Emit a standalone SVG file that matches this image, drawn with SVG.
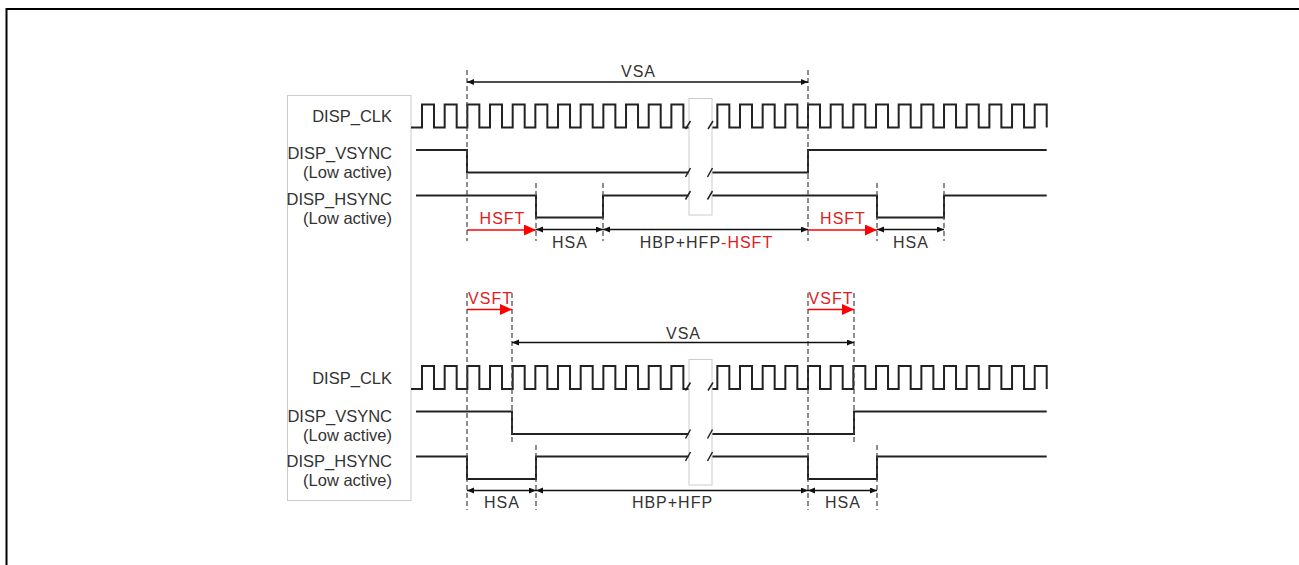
<svg xmlns="http://www.w3.org/2000/svg" width="1299" height="565" viewBox="0 0 1299 565">
<defs>
<style>
.t{font-family:"Liberation Sans",Arial,sans-serif;font-size:16px;fill:#333}
.lab{text-anchor:end;font-size:16.5px}
.al{text-anchor:middle;letter-spacing:1px}
.red{fill:#e02020}
.sig{fill:none;stroke:#222;stroke-width:2}
.dash{fill:none;stroke:#444;stroke-width:1.2;stroke-dasharray:5 3}
.arr{stroke:#111;stroke-width:1.3;marker-start:url(#ah);marker-end:url(#ah)}
.rarr{stroke:#ff0000;stroke-width:1.6;marker-end:url(#rh)}
.brk{fill:#fff;stroke:#ccc;stroke-width:1}
.sl{fill:none;stroke:#222;stroke-width:1.5}
</style>
<marker id="ah" markerUnits="userSpaceOnUse" markerWidth="8" markerHeight="7" refX="7" refY="3" orient="auto-start-reverse"><path d="M0,0 L7,3 L0,6 z" fill="#111"/></marker>
<marker id="rh" markerUnits="userSpaceOnUse" markerWidth="13" markerHeight="12" refX="12" refY="5.5" orient="auto"><path d="M0,0 L12,5.5 L0,11 z" fill="#ff0000"/></marker>
<path id="clk" d="M411,127.5 H422 v-23h12v23h10.67 v-23h12v23h10.67 v-23h12v23h10.67 v-23h12v23h10.67 v-23h12v23h10.67 v-23h12v23h10.67 v-23h12v23h10.67 v-23h12v23h10.67 v-23h12v23h10.67 v-23h12v23h10.67 v-23h12v23h10.67 v-23h12v23h10.67 M705,127.5 H717.33 v-23h12v23h10.67 v-23h12v23h10.67 v-23h12v23h10.67 v-23h12v23h10.67 v-23h12v23h10.67 v-23h12v23h10.67 v-23h12v23h10.67 v-23h12v23h10.67 v-23h12v23h10.67 v-23h12v23h10.67 v-23h12v23h10.67 v-23h12v23h10.67 v-23h12v23h10.67 v-23h12v23h10.67 v-23h12v23"/>
</defs>
<rect width="1299" height="565" fill="#fff"/>
<path d="M6.5,565 V9 H1299" fill="none" stroke="#000" stroke-width="2"/>

<g id="label-box"><rect x="287.5" y="95.5" width="123.5" height="405" fill="#fff" stroke="#ccc"/></g>

<g id="top-labels">
<text class="t lab" x="392" y="122">DISP_CLK</text>
<text class="t lab" x="392" y="159">DISP_VSYNC</text>
<text class="t lab" x="392" y="178">(Low active)</text>
<text class="t lab" x="392" y="205">DISP_HSYNC</text>
<text class="t lab" x="392" y="224">(Low active)</text>
</g>
<g id="bottom-labels">
<text class="t lab" x="392" y="384">DISP_CLK</text>
<text class="t lab" x="392" y="422">DISP_VSYNC</text>
<text class="t lab" x="392" y="441">(Low active)</text>
<text class="t lab" x="392" y="467">DISP_HSYNC</text>
<text class="t lab" x="392" y="486">(Low active)</text>
</g>

<g id="top-signals">
<use href="#clk" class="sig"/>
<path class="sig" d="M416,150 H467 V172.5 H808 V150 H1046.7"/>
<path class="sig" d="M416,195.5 H536 V217.5 H603 V195.5 H877 V217.5 H944 V195.5 H1046.7"/>
<rect class="brk" x="689" y="98.5" width="23" height="116.5"/>
<path class="sl" d="M685.5,129 L690.5,121 M708,129 L713,121 M685.5,177 L690.5,168 M707.5,177 L712.5,168 M685.5,199.5 L690.5,191 M707.5,199.5 L712.5,191"/>
</g>

<g id="bottom-signals">
<use href="#clk" class="sig" transform="translate(0,261.5)"/>
<path class="sig" d="M416,411.5 H512 V434 H854 V411.5 H1046.7"/>
<path class="sig" d="M416,456.5 H467 V479 H536 V456.5 H808 V479 H877 V456.5 H1046.7"/>
<rect class="brk" x="689" y="359.5" width="23" height="125.5"/>
<path class="sl" d="M685.5,390.5 L690.5,382.5 M708,390.5 L713,382.5 M685.5,438.5 L690.5,429.5 M707.5,438.5 L712.5,429.5 M685.5,461 L690.5,452 M707.5,461 L712.5,452"/>
</g>

<g id="connectors">
<path class="dash" d="M467,70 V241 M808,70 V241 M536,183 V241 M603,183 V241 M877,183 V241 M944,183 V241"/>
<path class="dash" d="M467,293 V510 M512,293 V445 M536,445 V510 M808,293 V510 M854,293 V445 M877,445 V510"/>
<line class="arr" x1="467" y1="82" x2="808" y2="82"/>
<line class="arr" x1="536" y1="229.5" x2="603" y2="229.5"/>
<line class="arr" x1="603" y1="229.5" x2="808" y2="229.5"/>
<line class="arr" x1="877" y1="229.5" x2="944" y2="229.5"/>
<line class="rarr" x1="467" y1="230" x2="536" y2="230"/>
<line class="rarr" x1="808" y1="230" x2="877" y2="230"/>
<line class="rarr" x1="467" y1="309.5" x2="512" y2="309.5"/>
<line class="rarr" x1="808" y1="309.5" x2="854" y2="309.5"/>
<line class="arr" x1="512" y1="342.5" x2="854" y2="342.5"/>
<line class="arr" x1="467" y1="490.5" x2="536" y2="490.5"/>
<line class="arr" x1="536" y1="490.5" x2="808" y2="490.5"/>
<line class="arr" x1="808" y1="490.5" x2="877" y2="490.5"/>
</g>

<g id="arrow-labels">
<text class="t al" x="638.5" y="77">VSA</text>
<text class="t al red" x="502.5" y="224">HSFT</text>
<text class="t al red" x="843" y="224">HSFT</text>
<text class="t al" x="570" y="247.5">HSA</text>
<text class="t al" x="706.5" y="247.5">HBP+HFP<tspan class="red">-HSFT</tspan></text>
<text class="t al" x="911" y="247.5">HSA</text>
<text class="t al red" x="490.5" y="304">VSFT</text>
<text class="t al red" x="831" y="304">VSFT</text>
<text class="t al" x="683.5" y="338.5">VSA</text>
<text class="t al" x="502" y="508">HSA</text>
<text class="t al" x="672.5" y="508">HBP+HFP</text>
<text class="t al" x="843" y="508">HSA</text>
</g>
</svg>
